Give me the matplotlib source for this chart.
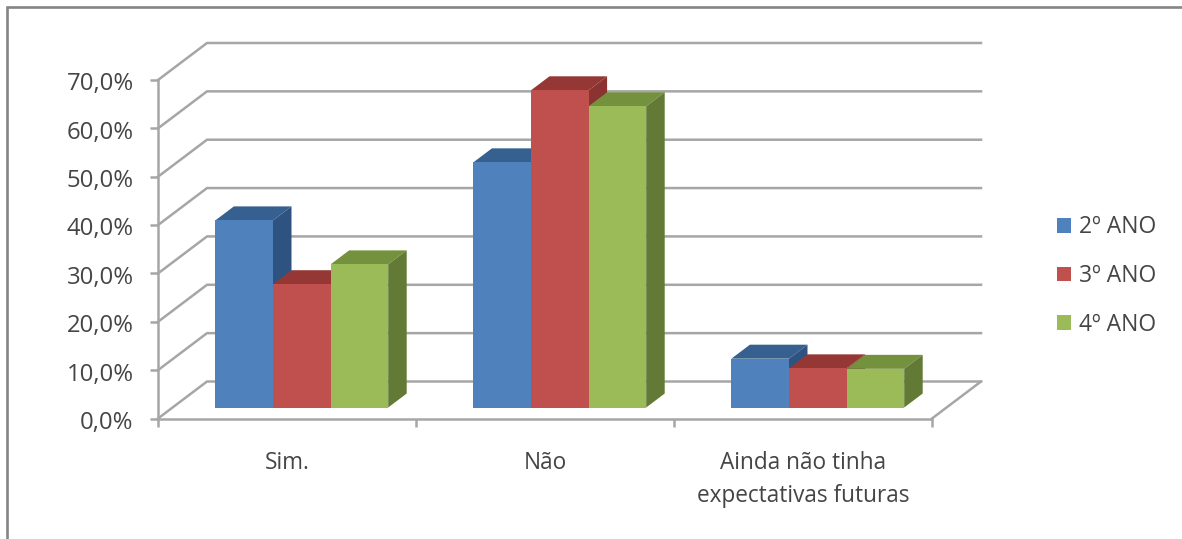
import matplotlib
matplotlib.use("Agg")
import matplotlib.pyplot as plt
from matplotlib.patches import Patch, Polygon
from matplotlib.lines import Line2D
from matplotlib.transforms import ScaledTranslation

# Survey shares in percent, one list per school year
categories = ["Sim.", "Não", "Ainda não tinha\nexpectativas futuras"]
series_names = ["2º ANO", "3º ANO", "4º ANO"]
ano_2 = [38.7, 50.7, 10.1]
ano_3 = [25.5, 65.6, 8.1]
ano_4 = [29.6, 62.3, 8.0]
y_ticks = [0, 10, 20, 30, 40, 50, 60, 70]
y_labels = ["0,0%", "10,0%", "20,0%", "30,0%", "40,0%", "50,0%", "60,0%", "70,0%"]

W, H = 1182, 539
FONT = "Open Sans"
TEXT = "#454545"
GRID = "#a6a6a6"
FACES = [("#4f81bd", "#36608f", "#2f5380"),
         ("#c0504d", "#953735", "#8a3331"),
         ("#9bbb59", "#74913d", "#627a35")]

fig = plt.figure(figsize=(W / 100, H / 100), dpi=100, facecolor="white")
ax = fig.add_axes([158 / W, 1 - 418.5 / H, 774 / W, 338.5 / H])
ax.set_xlim(0, 3)
ax.set_ylim(0, 70)
ax.patch.set_visible(False)

# Oblique projection: how far the back wall sits from the front plane, in data units
DEPTH_X = 49 / 258
DEPTH_Y = 37 / 338.5 * 70
GROUP_START = 0.166
BAR_W = 57.6 / 258
BAR_NEAR = 0.297
BAR_FAR = 0.675


def project(x, v, d):
    return x + DEPTH_X * d, v + DEPTH_Y * d


# Back wall gridlines with their diagonals running along the left side wall
for v in y_ticks:
    ax.plot([0, DEPTH_X, 3 + DEPTH_X], [v, v + DEPTH_Y, v + DEPTH_Y],
            color=GRID, lw=1.8, clip_on=False, zorder=1, solid_joinstyle="miter")
ax.plot([3, 3 + DEPTH_X], [0, DEPTH_Y], color=GRID, lw=1.8, clip_on=False, zorder=1)

# Extruded bars, drawn left to right so nearer faces overlap the previous side
for c in range(len(categories)):
    for s, values in enumerate([ano_2, ano_3, ano_4]):
        v = values[c]
        x0 = c + GROUP_START + s * BAR_W
        x1 = x0 + BAR_W
        front, top, side = FACES[s]
        ax.add_patch(Polygon([project(x0, v, BAR_NEAR), project(x1, v, BAR_NEAR),
                              project(x1, v, BAR_FAR), project(x0, v, BAR_FAR)],
                             fc=top, ec="none", clip_on=False, zorder=3))
        ax.add_patch(Polygon([project(x1, 0, BAR_NEAR), project(x1, 0, BAR_FAR),
                              project(x1, v, BAR_FAR), project(x1, v, BAR_NEAR)],
                             fc=side, ec="none", clip_on=False, zorder=3))
        ax.add_patch(Polygon([project(x0, 0, BAR_NEAR), project(x1, 0, BAR_NEAR),
                              project(x1, v, BAR_NEAR), project(x0, v, BAR_NEAR)],
                             fc=front, ec="none", clip_on=False, zorder=3))

# Axes
for name in ("top", "right"):
    ax.spines[name].set_visible(False)
for name in ("left", "bottom"):
    ax.spines[name].set_color(GRID)
    ax.spines[name].set_linewidth(1.8)
    ax.spines[name].set_zorder(2)
ax.set_yticks(y_ticks, y_labels, fontsize=17.2, color=TEXT, fontfamily=FONT)
ax.set_xticks([0, 1, 2, 3], [])
ax.set_xticks([0.5, 1.5, 2.5], categories, minor=True, fontsize=16.3, color=TEXT,
              fontfamily=FONT, linespacing=1.5)
ax.tick_params(axis="y", length=6, width=1.8, color=GRID, pad=11.5)
ax.tick_params(axis="x", which="major", length=6, width=1.8, color=GRID)
ax.tick_params(axis="x", which="minor", length=0, pad=23.7)
for label in ax.get_yticklabels():
    label.set_transform(label.get_transform() + ScaledTranslation(0, -1.0 / 72, fig.dpi_scale_trans))

handles = [Patch(fc=f[0], ec="none") for f in FACES]
fig.legend(handles, series_names, loc="center left", bbox_to_anchor=(1057 / W, 1 - 276 / H),
           frameon=False, labelcolor=TEXT, prop={"family": FONT, "size": 16.5},
           handlelength=0.61, handleheight=0.61, handletextpad=0.33, labelspacing=1.07,
           borderpad=0, borderaxespad=0)

# Outer chart frame: left and top edges only
fig.add_artist(Line2D([6.5 / W, 6.5 / W, 1],
                      [0, 1 - 7 / H, 1 - 7 / H],
                      color="#858585", lw=1.9, solid_joinstyle="miter"))

fig.savefig("out.png", dpi=100, facecolor="white")
